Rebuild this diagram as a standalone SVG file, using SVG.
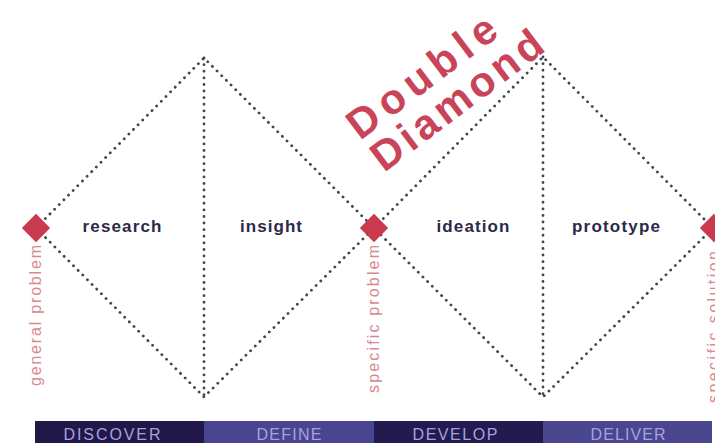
<svg xmlns="http://www.w3.org/2000/svg" width="715" height="443" viewBox="0 0 715 443">
<style>
.dot{fill:none;stroke:#45454f;stroke-width:2.8;stroke-dasharray:0.1 6.5;stroke-linecap:round}
.lbl{font-family:"Liberation Sans",Arial,sans-serif;font-weight:bold;font-size:17px;fill:#2c2a48;text-anchor:middle}
.vt{font-family:"Liberation Sans",Arial,sans-serif;font-size:16px;fill:#d98893}
.bar{font-family:"Liberation Sans",Arial,sans-serif;font-size:16px;fill:#a6a2dc;text-anchor:middle}
.node{fill:#c93a4e}
.title{font-family:"Liberation Sans",Arial,sans-serif;font-weight:bold;font-size:42px;fill:#c94458}
</style>
<rect width="715" height="443" fill="#ffffff"/>
<g id="connectors">
<path class="dot" d="M36 228 L204 58 L374 228 L204 397 Z"/>
<path class="dot" d="M204 58 L204 397"/>
<path class="dot" d="M374 228 L543 57 L713 228 L543 397 Z"/>
<path class="dot" d="M543 57 L543 397"/>
</g>
<g id="title">
<g transform="translate(360,141) rotate(-37)">
<text class="title" x="0" y="0" textLength="176" lengthAdjust="spacing">Double</text>
<text class="title" x="0" y="40" textLength="204" lengthAdjust="spacing">Diamond</text>
</g>
</g>
<g id="node-general">
<rect class="node" x="-10" y="-10" width="20" height="20" transform="translate(36,228) rotate(45)"/>
<text class="vt" transform="translate(41,386) rotate(-90)" textLength="141" lengthAdjust="spacing">general problem</text>
</g>
<g id="node-specific-problem">
<rect class="node" x="-10" y="-10" width="20" height="20" transform="translate(374,228) rotate(45)"/>
<text class="vt" transform="translate(379,393) rotate(-90)" textLength="148" lengthAdjust="spacing">specific problem</text>
</g>
<g id="node-specific-solution">
<rect class="node" x="-10" y="-10" width="20" height="20" transform="translate(714,228) rotate(45)"/>
<text class="vt" transform="translate(719,403) rotate(-90)" textLength="152" lengthAdjust="spacing">specific solution</text>
</g>
<g id="label-research"><text class="lbl" x="122" y="232" textLength="79" lengthAdjust="spacing">research</text></g>
<g id="label-insight"><text class="lbl" x="271" y="232" textLength="62" lengthAdjust="spacing">insight</text></g>
<g id="label-ideation"><text class="lbl" x="473" y="232" textLength="73" lengthAdjust="spacing">ideation</text></g>
<g id="label-prototype"><text class="lbl" x="616" y="232" textLength="88" lengthAdjust="spacing">prototype</text></g>
<g id="phase-discover">
<rect x="35" y="421" width="169" height="22" fill="#211849"/>
<text class="bar" x="112" y="440" textLength="97" lengthAdjust="spacing">DISCOVER</text>
</g>
<g id="phase-define">
<rect x="204" y="421" width="170" height="22" fill="#4a4590"/>
<text class="bar" x="289" y="440" textLength="65" lengthAdjust="spacing">DEFINE</text>
</g>
<g id="phase-develop">
<rect x="374" y="421" width="169" height="22" fill="#231a4f"/>
<text class="bar" x="455" y="440" textLength="85" lengthAdjust="spacing">DEVELOP</text>
</g>
<g id="phase-deliver">
<rect x="543" y="421" width="169" height="22" fill="#4a4690"/>
<text class="bar" x="628" y="440" textLength="75" lengthAdjust="spacing">DELIVER</text>
</g>
</svg>
